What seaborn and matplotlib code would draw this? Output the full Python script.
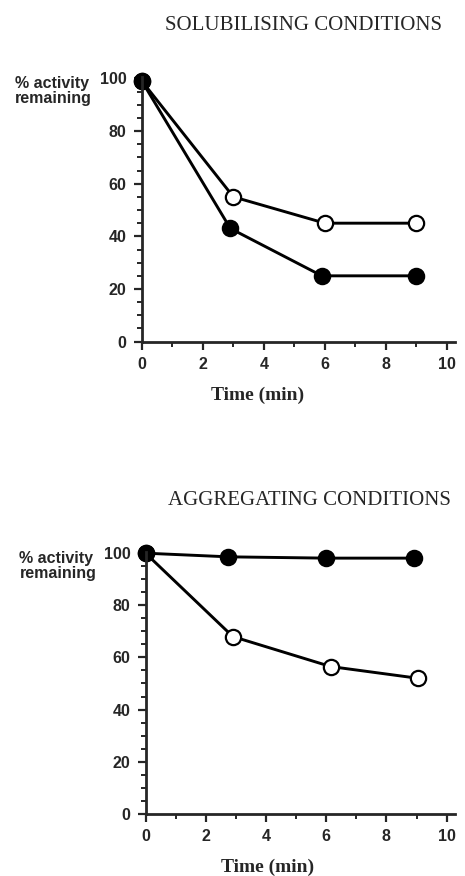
"""Two-panel activity-remaining chart: solubilising vs aggregating conditions."""

import matplotlib

matplotlib.use("Agg")
import matplotlib.pyplot as plt
import pandas as pd
import seaborn as sns
from matplotlib.ticker import MultipleLocator

# Solubilising conditions
sol_time_open = [0, 3, 6, 9]
sol_open = [99, 55, 45, 45]
sol_time_filled = [0, 2.9, 5.9, 9]
sol_filled = [99, 43, 25, 25]

# Aggregating conditions
agg_time_open = [0, 2.9, 6.15, 9.05]
agg_open = [100, 68, 56.5, 52]
agg_time_filled = [0, 2.75, 6, 8.9]
agg_filled = [100, 98.6, 98.1, 98.1]

x_ticks = [0, 2, 4, 6, 8, 10]
y_ticks = [0, 20, 40, 60, 80, 100]

SANS = "Liberation Sans"
SERIF = "Liberation Serif"

sns.set_style("ticks")
plt.rcParams["font.family"] = [SANS, "DejaVu Sans"]

fig = plt.figure(figsize=(4.65, 8.76), dpi=100)


def draw_panel(ax, title, t_open, v_open, t_filled, v_filled, xlabel_x, title_x, ylab_x):
    # open series first: the filled circle covers it at t=0 as in the original
    for t, v, face in [(t_open, v_open, "white"), (t_filled, v_filled, "black")]:
        df = pd.DataFrame({"time": t, "activity": v})
        sns.lineplot(data=df, x="time", y="activity", ax=ax, color="black",
                     linewidth=2.1, marker="o", markersize=11,
                     markerfacecolor=face, markeredgecolor="black",
                     markeredgewidth=1.6, sort=False, clip_on=False)

    ax.set_xlim(0, 10.27)
    ax.set_ylim(0, 100.5)
    ax.set_xticks(x_ticks)
    ax.set_yticks(y_ticks)
    ax.xaxis.set_minor_locator(MultipleLocator(1))
    ax.yaxis.set_minor_locator(MultipleLocator(5))
    ax.tick_params(which="major", direction="out", length=6, width=1.6,
                   labelsize=11.5, pad=5)
    ax.tick_params(which="minor", direction="out", length=3.5, width=1.4)
    for lab in ax.get_xticklabels() + ax.get_yticklabels():
        lab.set_fontweight("bold")

    sns.despine(ax=ax)
    for side in ["left", "bottom"]:
        ax.spines[side].set_linewidth(2.0)

    ax.set_xlabel("Time (min)", fontfamily=SERIF, fontsize=14, fontweight="bold")
    ax.xaxis.set_label_coords(xlabel_x, -0.17)
    ax.set_ylabel("")
    ax.text(ylab_x, 1.005, "% activity\nremaining", transform=ax.transAxes,
            ha="left", va="top", fontsize=11.5, fontweight="bold",
            linespacing=1.05)
    ax.text(title_x, 1.195, title, transform=ax.transAxes, ha="center",
            va="center", fontfamily=SERIF, fontsize=15)


ax_top = fig.add_axes([0.305, 0.610, 0.674, 0.302])
draw_panel(ax_top, "SOLUBILISING CONDITIONS", sol_time_open, sol_open,
           sol_time_filled, sol_filled, xlabel_x=0.368, title_x=0.515,
           ylab_x=-0.405)

ax_bot = fig.add_axes([0.313, 0.071, 0.665, 0.299])
draw_panel(ax_bot, "AGGREGATING CONDITIONS", agg_time_open, agg_open,
           agg_time_filled, agg_filled, xlabel_x=0.395, title_x=0.531,
           ylab_x=-0.408)

fig.savefig("out.png", dpi=100)
plt.close(fig)
